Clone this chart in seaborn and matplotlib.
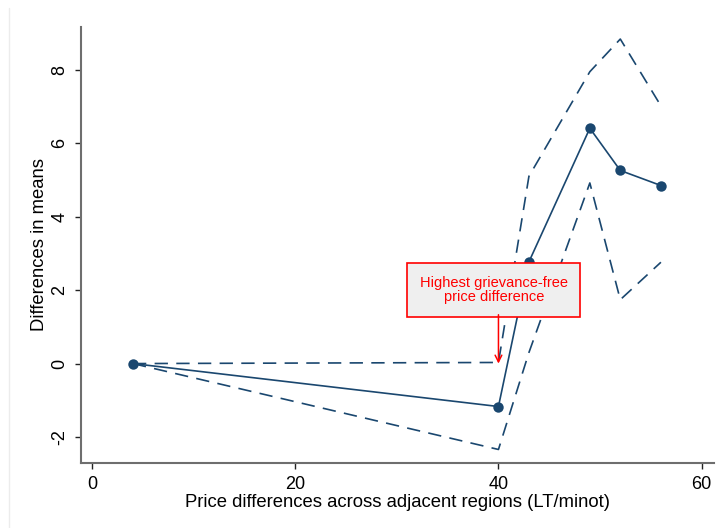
import matplotlib
matplotlib.use("Agg")
import matplotlib.pyplot as plt
import seaborn as sns
from matplotlib.lines import Line2D

# price difference bins (LT/minot)
price_diff = [4, 40, 43, 49, 52, 56]
mean_diff = [0.0, -1.17, 2.77, 6.41, 5.26, 4.85]
upper_ci = [0.0, 0.03, 5.1, 7.95, 8.84, 7.02]
lower_ci = [0.0, -2.34, 0.3, 4.92, 1.74, 2.76]

x_ticks = [0, 20, 40, 60]
y_ticks = [-2, 0, 2, 4, 6, 8]

note_text = "Highest grievance-free\nprice difference"
note_x = 40
note_y = 0

NAVY = "#1a476f"

sns.set_style("white")
plt.rcParams["font.family"] = ["Liberation Sans", "DejaVu Sans"]
plt.rcParams["text.color"] = "black"
plt.rcParams["axes.labelcolor"] = "black"
plt.rcParams["xtick.color"] = "black"
plt.rcParams["ytick.color"] = "black"

fig = plt.figure(figsize=(7.21, 5.28), dpi=100)
ax = fig.add_axes([0.1123, 0.123, 0.878, 0.826])

# confidence bounds
sns.lineplot(x=price_diff, y=upper_ci, ax=ax, color=NAVY, linewidth=1.2,
             linestyle=(0, (8, 5)), sort=False)
sns.lineplot(x=price_diff, y=lower_ci, ax=ax, color=NAVY, linewidth=1.2,
             linestyle=(0, (8, 5)), sort=False)

# point estimates
sns.lineplot(x=price_diff, y=mean_diff, ax=ax, color=NAVY, linewidth=1.2,
             marker="o", markersize=7.5, markeredgewidth=0, sort=False)

# note box and arrow pointing at the threshold
ax.text(39.55, 2.0, note_text, ha="center", va="center",
        color="red", fontsize=10.5, linespacing=1.05, zorder=5,
        bbox=dict(boxstyle="square,pad=0.85", fc="#efefef", ec="red", lw=1.2))
ax.annotate("", xy=(note_x, note_y), xytext=(note_x, 1.33), zorder=5,
            arrowprops=dict(arrowstyle="->", color="red", lw=1.1,
                            shrinkA=0, shrinkB=0, mutation_scale=12))

ax.set_xlim(-1.12, 61.23)
ax.set_ylim(-2.71, 9.17)
ax.set_xticks(x_ticks)
ax.set_yticks(y_ticks)
ax.set_xticklabels([str(t) for t in x_ticks])
ax.set_yticklabels([str(t) for t in y_ticks], rotation=90, va="center")

ax.set_xlabel("Price differences across adjacent regions (LT/minot)",
              fontsize=13.3, labelpad=1)
ax.set_ylabel("Differences in means", fontsize=13.3, labelpad=2.5)

for side in ["top", "right"]:
    ax.spines[side].set_visible(False)
for side in ["left", "bottom"]:
    ax.spines[side].set_color("#6e6e6e")
    ax.spines[side].set_linewidth(1.5)

ax.tick_params(axis="both", which="major", direction="out", length=4,
               width=1.0, color="#222222", labelsize=13, pad=5,
               bottom=True, left=True)

# faint border on the left, as in the export
fig.add_artist(Line2D([0.0125, 0.0125], [0.0, 0.985], color="#ececec",
                      lw=1.0, transform=fig.transFigure))

fig.savefig("out.png", dpi=100)
